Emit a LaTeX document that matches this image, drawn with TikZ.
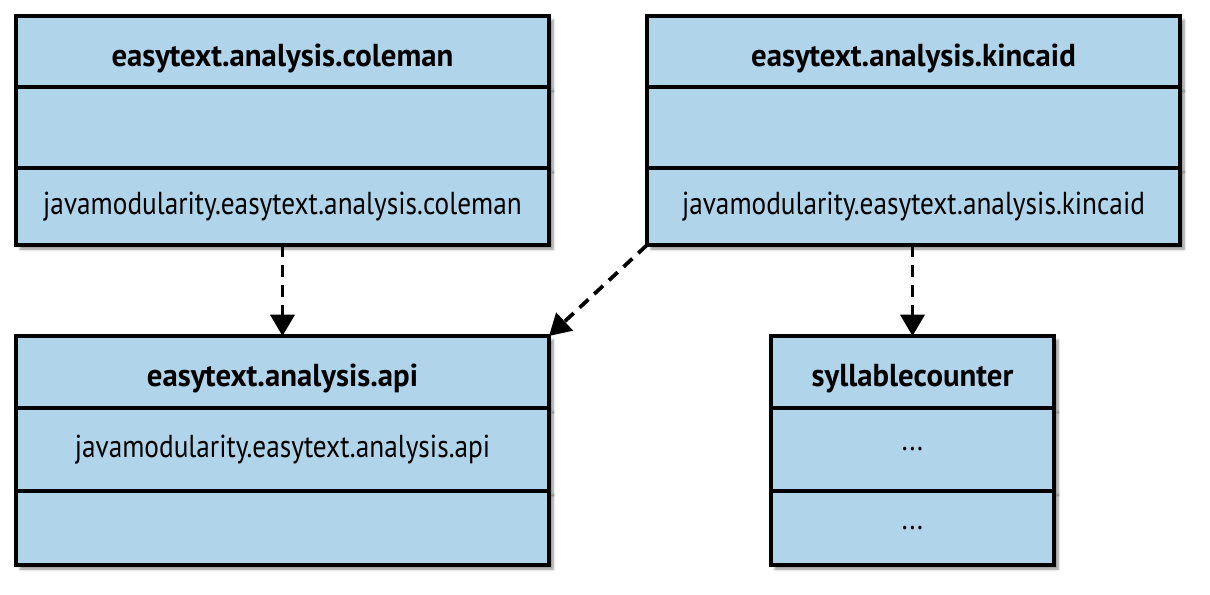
\documentclass[tikz,border=0pt]{standalone}
\usepackage{fontspec}
\setmainfont[FakeStretch=0.86]{PT Sans}
\newfontfamily\headfont[FakeStretch=0.97]{PT Sans}
\usepackage{tikz}
\usetikzlibrary{shapes, arrows.meta, positioning, shadows.blur}
\definecolor{boxblue}{RGB}{176,212,234}

\begin{document}
\begin{tikzpicture}[x=0.75pt, y=-0.75pt, >={Triangle[width=18pt,length=16pt]}]
        % Define block styles
        \tikzstyle{row} = [draw, line width=2.9pt, fill=boxblue, rectangle, minimum width=399.75pt, text centered, inner sep=0pt, outer sep=0pt, font=\fontsize{23.8}{28}\selectfont, blur shadow={shadow xshift=3pt, shadow yshift=-3pt, shadow blur steps=6, shadow opacity=45}]
        \tikzstyle{narrowrow} = [row, minimum width=212.25pt]
        \tikzstyle{head} = [font=\fontsize{23.8}{28}\selectfont\headfont\bfseries, text height=22pt, text depth=0pt]
        \tikzstyle{dep} = [->, line width=2.8pt, dash pattern=on 9pt off 6pt]

        \useasboundingbox (0,0) rectangle (1210,594);

        % Nodes
        \node [row, head, anchor=north, minimum height=53.25pt] (colemanhead) at (282.5,16) {easytext.analysis.coleman};
        \node [row, below=0pt of colemanhead, minimum height=60.75pt] (colemanmid) {};
        \node [row, below=0pt of colemanmid, minimum height=57.75pt] (colemanbot) {javamodularity.easytext.analysis.coleman};

        \node [row, head, anchor=north, minimum height=53.25pt] (kincaidhead) at (913.5,16) {easytext.analysis.kincaid};
        \node [row, below=0pt of kincaidhead, minimum height=60.75pt] (kincaidmid) {};
        \node [row, below=0pt of kincaidmid, minimum height=57.75pt] (kincaidbot) {javamodularity.easytext.analysis.kincaid};

        \node [row, head, anchor=north, minimum height=54pt] (apihead) at (282.5,336) {easytext.analysis.api};
        \node [row, below=0pt of apihead, minimum height=62.25pt] (apimid) {javamodularity.easytext.analysis.api};
        \node [row, below=0pt of apimid, minimum height=55.5pt] (apibot) {};

        \node [narrowrow, head, anchor=north, minimum height=54pt] (sylhead) at (912.5,336) {syllablecounter};
        \node [narrowrow, below=0pt of sylhead, minimum height=62.25pt] (sylmid) {...};
        \node [narrowrow, below=0pt of sylmid, minimum height=55.5pt] (sylbot) {...};

        % Edges
        \draw [dep] (colemanbot.south) -- (apihead.north);
        \draw [dep] (kincaidbot.south west) -- (apihead.north east);
        \draw [dep] (sylhead.north |- kincaidbot.south) -- (sylhead.north);
\end{tikzpicture}
\end{document}
